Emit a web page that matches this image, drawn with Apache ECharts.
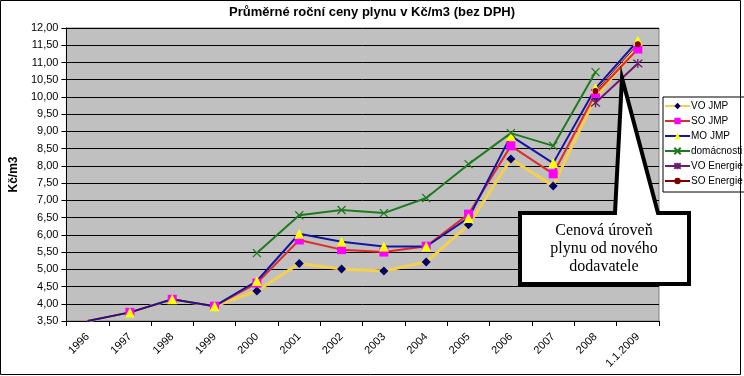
<!DOCTYPE html>
<html>
<head>
<meta charset="utf-8">
<script src="https://cdn.jsdelivr.net/npm/echarts@6/dist/echarts.min.js"></script>
<style>
html,body{margin:0;padding:0;background:#fff;}
#c{width:744px;height:376px;}
</style>
</head>
<body>
<div id="c"></div>
<script>
var categories = ['1996','1997','1998','1999','2000','2001','2002','2003','2004','2005','2006','2007','2008','1.1.2009'];
var voJmp      = [3.50, 3.75, 4.13, 3.93, 4.37, 5.17, 5.01, 4.95, 5.21, 6.29, 8.20, 7.42, 10.00, 11.45];
var soJmp      = [3.50, 3.75, 4.13, 3.93, 4.60, 5.85, 5.57, 5.50, 5.67, 6.60, 8.58, 7.77, 10.10, 11.39];
var moJmp      = [3.50, 3.75, 4.13, 3.93, 4.66, 6.03, 5.80, 5.66, 5.66, 6.49, 8.87, 8.08, 10.25, 11.63];
var domacnosti = [null, null, null, null, 5.47, 6.57, 6.72, 6.63, 7.07, 8.05, 8.95, 8.58, 10.72, null];
var voEnergie  = [null, null, null, null, null, null, null, null, null, null, null, null, 9.83, 10.97];
var soEnergie  = [null, null, null, null, null, null, null, null, null, null, null, null, 10.17, 11.53];
var seriesNames = ['VO JMP','SO JMP','MO JMP','domácnosti','VO Energie','SO Energie'];
var titleText = 'Průměrné roční ceny plynu v Kč/m3 (bez DPH)';
var yAxisName = 'Kč/m3';
var calloutLines = ['Cenová úroveň','plynu od nového','dodavatele'];

var X_PATH = 'path://M0,0L10,10M10,0L0,10';
var STAR_PATH = 'path://M0,0L10,10M10,0L0,10M5,-1L5,11';

function firstNoSymbol(arr){
  return arr.map(function(v,i){ return (i===0 && v!=null) ? {value:v, symbol:'none'} : v; });
}

var chart = echarts.init(document.getElementById('c'), null, {renderer:'canvas'});
var option = {
  animation:false,
  backgroundColor:'#ffffff',
  title:{
    text:titleText, left:'center', top:6, padding:0,
    textStyle:{fontFamily:'Arial, Liberation Sans', fontWeight:'bold', fontSize:13, color:'#000'}
  },
  legend:{
    orient:'vertical', left:663, top:97, padding:[3,2,5,1], itemGap:3,
    itemWidth:25, itemHeight:8,
    backgroundColor:'#ffffff', borderColor:'#000', borderWidth:1, borderRadius:0,
    textStyle:{fontFamily:'Arial, Liberation Sans', fontSize:10, lineHeight:12, color:'#000', padding:[0,0,0,-4]},
    data:seriesNames
  },
  grid:{left:64, right:85, top:28, bottom:55, show:true, backgroundColor:'#c0c0c0', borderColor:'#808080', borderWidth:1},
  xAxis:{
    type:'category', data:categories, boundaryGap:true,
    axisLine:{lineStyle:{color:'#000', width:1}},
    axisTick:{show:true, length:5, interval:0, lineStyle:{color:'#000'}},
    axisLabel:{interval:0, rotate:45, margin:14, fontFamily:'Arial, Liberation Sans', fontSize:11, color:'#000'}
  },
  yAxis:{
    type:'value', min:3.5, max:12, interval:0.5,
    name:yAxisName, nameLocation:'middle', nameRotate:90, nameGap:43,
    nameTextStyle:{fontFamily:'Arial, Liberation Sans', fontWeight:'bold', fontSize:12, color:'#000'},
    axisLine:{show:true, lineStyle:{color:'#000', width:1}},
    axisTick:{show:true, length:5, lineStyle:{color:'#000'}},
    axisLabel:{margin:8, fontFamily:'Arial, Liberation Sans', fontSize:11, color:'#000',
      formatter:function(v){ return v.toFixed(2).replace('.',','); }},
    splitLine:{show:true, lineStyle:{color:'#000', width:1}}
  },
  series:[
    {name:seriesNames[0], type:'line', data:firstNoSymbol(voJmp), symbol:'diamond', symbolSize:9,
      lineStyle:{color:'#f5d04a', width:3}, itemStyle:{color:'#000066'}},
    {name:seriesNames[1], type:'line', data:firstNoSymbol(soJmp), symbol:'rect', symbolSize:9,
      lineStyle:{color:'#e42a24', width:2}, itemStyle:{color:'#ff00ff'}},
    {name:seriesNames[2], type:'line', data:firstNoSymbol(moJmp), symbol:'triangle', symbolSize:10,
      lineStyle:{color:'#1515a5', width:2}, itemStyle:{color:'#ffff00'}},
    {name:seriesNames[3], type:'line', data:domacnosti, symbol:X_PATH, symbolSize:8,
      lineStyle:{color:'#1f7a1f', width:2}, itemStyle:{color:'#1f7a1f', borderColor:'#1f7a1f', borderWidth:1.3}},
    {name:seriesNames[4], type:'line', data:voEnergie, symbol:STAR_PATH, symbolSize:9,
      lineStyle:{color:'#6e1a6e', width:2}, itemStyle:{color:'#6e1a6e', borderColor:'#6e1a6e', borderWidth:1.3}},
    {name:seriesNames[5], type:'line', data:soEnergie, symbol:'circle', symbolSize:6,
      lineStyle:{color:'#800000', width:1}, itemStyle:{color:'#800000'}}
  ],
  graphic:[
    {type:'rect', z:100, silent:true, shape:{x:0.5, y:0.5, width:740, height:374},
      style:{fill:'none', stroke:'#000', lineWidth:1}},
    {type:'polygon', z:110, silent:true,
      shape:{points:[[520,213],[615,213],[622,78],[658,213],[689,213],[689,284],[520,284]]},
      style:{fill:'#ffffff', stroke:'#000', lineWidth:4, lineJoin:'miter'}},
    {type:'text', z:120, silent:true, x:604, y:249,
      style:{text:calloutLines.join('\n'), fill:'#000', font:'16px "Liberation Serif", "Times New Roman", serif',
        align:'center', verticalAlign:'middle', lineHeight:18}}
  ]
};
chart.setOption(option);
</script>
</body>
</html>
